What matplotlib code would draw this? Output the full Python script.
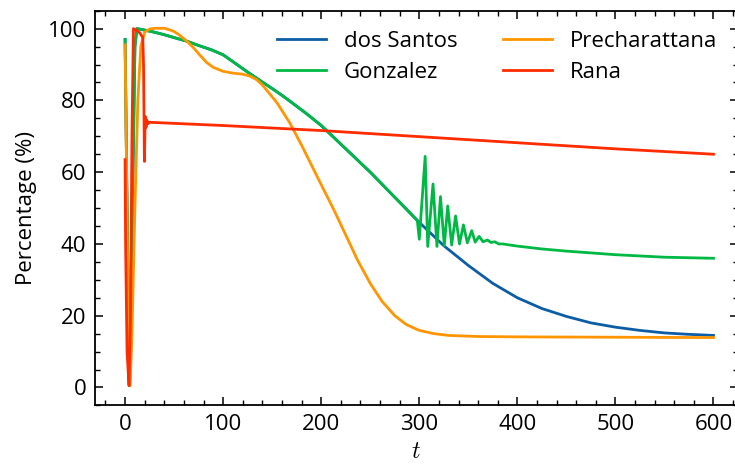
import matplotlib
matplotlib.use("Agg")
import matplotlib.pyplot as plt
from matplotlib.ticker import MultipleLocator

# ---- data ----
blue_t = [0, 2, 4.5, 6, 8, 10, 12, 20, 30, 40, 50, 63, 75, 88, 100, 113, 127, 140,
          150, 160, 168, 185, 200, 225, 250, 275, 300, 325, 350, 375, 400, 425, 450,
          475, 500, 525, 550, 575, 600]
blue_y = [97, 50, 0.5, 12, 60, 95, 100, 99.6, 99.0, 98.3, 97.5, 96.5, 95.3, 94.1,
          92.7, 90.2, 87.5, 85.1, 83.3, 81.4, 79.8, 76.3, 73.0, 66.5, 60.0, 53.0,
          46.0, 39.5, 34.0, 29.0, 25.0, 22.0, 19.8, 18.0, 16.8, 15.9, 15.2, 14.8, 14.5]

green_t = [0, 2, 4.5, 6, 8, 10, 12, 20, 30, 40, 50, 63, 75, 88, 100, 113, 127, 140,
           150, 160, 168, 185, 200, 225, 250, 275, 298, 300, 306, 308.6, 314, 318,
           321.6, 325.5, 329, 333, 337, 341, 345, 349, 353.5, 357, 361, 365, 369.5,
           373, 377, 381, 385, 400, 425, 450, 475, 500, 550, 600]
green_y = [97, 50, 0.5, 12, 60, 95, 100, 99.6, 99.0, 98.3, 97.5, 96.5, 95.3, 94.1,
           92.7, 90.2, 87.5, 85.1, 83.3, 81.4, 79.8, 76.3, 73.0, 66.5, 60.0, 53.0,
           46.5, 41.3, 64.4, 39.3, 56.7, 39.3, 53.2, 39.5, 50.6, 39.7, 47.8, 40.0,
           45.3, 40.3, 43.7, 40.5, 42.1, 40.6, 41.1, 40.4, 40.6, 40.0, 40.0, 39.4,
           38.6, 38.0, 37.5, 37.0, 36.3, 36.0]

orange_t = [0, 1.5, 3, 5, 7, 10, 13, 16, 20, 25, 30, 40, 45, 50, 55, 63, 70, 75, 83,
            90, 100, 110, 120, 127, 134, 140, 147, 155, 168, 180, 190, 200, 212, 225,
            237, 250, 262, 275, 287, 300, 315, 330, 360, 400, 500, 600]
orange_y = [95.5, 60, 20, 0.5, 15, 50, 80, 95, 99, 99.9, 100.1, 100.1, 99.7, 99.2,
            98.3, 96.5, 94.6, 93.0, 90.6, 89.2, 88.1, 87.6, 87.3, 86.8, 85.8, 84.3,
            82.0, 79.3, 73.7, 67.5, 62.0, 56.5, 50.0, 42.5, 35.5, 29.0, 24.0, 20.0,
            17.5, 15.9, 15.0, 14.5, 14.2, 14.1, 14.0, 13.9]

red_t = [0, 0.5, 2, 4, 5.5, 7, 8.5, 12, 15, 18, 18.8, 19.7, 20.5, 21.3, 22.2, 23.2,
         25, 50, 100, 200, 300, 400, 500, 600]
red_y = [63.5, 40, 10, 0.5, 20, 70, 100, 99.5, 98.8, 97.5, 90, 63, 75.5, 72.5, 74.5,
         73.5, 73.9, 73.6, 73.0, 71.6, 69.9, 68.2, 66.5, 65.0]

series = [("dos Santos", blue_t, blue_y, "#0C5DA5"),
          ("Gonzalez", green_t, green_y, "#00B945"),
          ("Precharattana", orange_t, orange_y, "#FF9500"),
          ("Rana", red_t, red_y, "#FF2C00")]

plt.rcParams['font.family'] = ['Open Sans', 'DejaVu Sans']
plt.rcParams['mathtext.fontset'] = 'cm'
plt.rcParams['font.size'] = 16

W, H = 735, 465
fig = plt.figure(figsize=(W / 100, H / 100), dpi=100)
left, right, bottom, top = 94.7, 738.0, 405.4, 10.7
ax = fig.add_axes([left / W, (H - bottom) / H, (right - left) / W, (bottom - top) / H])

for name, t, y, c in series:
    ax.plot(t, y, color=c, lw=2.0, label=name, solid_joinstyle='round')

ax.set_xlim(-31, 625)
ax.set_ylim(-5, 105)
ax.xaxis.set_major_locator(MultipleLocator(100))
ax.xaxis.set_minor_locator(MultipleLocator(20))
ax.yaxis.set_major_locator(MultipleLocator(20))
ax.yaxis.set_minor_locator(MultipleLocator(5))
ax.tick_params(which='both', direction='in', top=True, right=True, labelsize=16)
ax.tick_params(which='major', length=6, width=1.1, pad=6)
ax.tick_params(which='minor', length=3.5, width=1.0)
for s in ax.spines.values():
    s.set_linewidth(1.3)

ax.set_xlabel("$t$", fontsize=17, labelpad=4)
ax.set_ylabel("Percentage (%)", fontsize=16, labelpad=8)

leg = ax.legend(ncol=2, frameon=False, loc='upper left',
                bbox_to_anchor=(277 / W, (H - 31) / H), bbox_transform=fig.transFigure,
                borderpad=0, borderaxespad=0, handlelength=2.2, handletextpad=0.8,
                columnspacing=2.05, labelspacing=0.45, fontsize=16)

fig.savefig("out.png", dpi=100)
